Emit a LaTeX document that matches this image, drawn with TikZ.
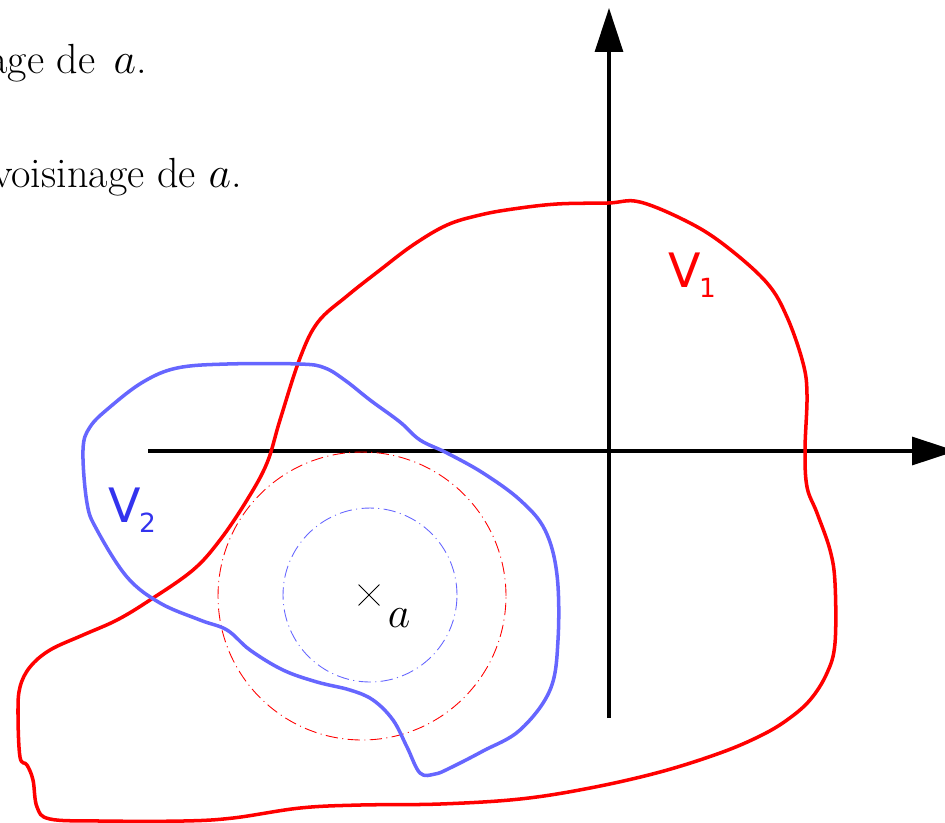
\documentclass[tikz,border=0pt]{standalone}
\usepackage{fontspec}
\usepackage{tikz}
\usetikzlibrary{arrows.meta,shapes.misc}
\newfontfamily\labelfont{DejaVu Sans}
\definecolor{VoisRed}{HTML}{FF0000}
\definecolor{VoisBlue}{HTML}{6666FF}
\definecolor{VoisBlueText}{HTML}{3333EE}

\begin{document}
\begin{tikzpicture}[
  x=0.02cm, y=-0.02cm,
  every node/.style={inner sep=0pt},
  axis/.style={draw=black, line width=1.8pt, -{Triangle[length=0.88cm, width=0.56cm]}},
  boundary/.style={line width=2pt, smooth cycle, tension=0.6},
  ballline/.style={line width=0.5pt, dash pattern=on 7pt off 2.5pt on 0.6pt off 2.5pt},
  bodytext/.style={font=\fontsize{24}{28}\selectfont, anchor=base east},
  vlabel/.style={font=\labelfont\fontsize{27}{30}\selectfont, anchor=base west},
]
\useasboundingbox (0,0) rectangle (945,822);
\clip (0,0) rectangle (945,822);

% ============ text of the page, cut at the left ============
\node[bodytext] (line1) at (147,73) {voisinage de \hspace{3pt}$a$.};
\node[bodytext] (line2) at (242,187) {voisinage de $a$.};

% ============ axes ============
\coordinate (xstart) at (148,451);
\coordinate (xend) at (956,451);
\coordinate (ystart) at (609,718);
\coordinate (yend) at (609,8);
\draw[axis] (xstart) -- (xend);
\draw[axis] (ystart) -- (yend);

% ============ balls around a ============
\draw[ballline, VoisRed] (362,596) circle[radius=2.88cm];
\draw[ballline, VoisBlue] (370,595) circle[radius=1.74cm];
\node[cross out, draw, line width=0.5pt, minimum size=0.4cm] (centre) at (369,595) {};
\node[font=\fontsize{23}{28}\selectfont, anchor=base] (alabel) at (399,627) {$a$};

% ============ V1 ============
\draw[boundary, VoisRed] plot coordinates {
  (608,203) (640,202) (690,223) (727,247) (767,283) (787,317) (803,363)
  (807,395) (805,450) (807,487) (817,513) (830,550) (835,583) (835,643)
  (827,673) (810,700) (787,720) (760,736) (720,753) (660,772) (590,788)
  (520,799) (440,804) (360,805) (300,808) (233,818) (183,821) (100,821)
  (50,819) (37,807) (33,780) (27,765) (20,757) (18,713) (20,687) (30,667)
  (50,650) (83,635) (117,620) (150,600) (193,570) (220,540) (247,500)
  (267,463) (280,420) (300,358) (318,322) (347,296) (380,270)
  (413,245) (447,225) (480,215) (513,209) (557,204)};
\node[vlabel, text=VoisRed] (V1) at (668,287)
  {V\kern-1pt\raisebox{-6.2pt}{\fontsize{15}{15}\selectfont 1}};

% ============ V2 ============
\draw[boundary, VoisBlue] plot coordinates {
  (177,368) (227,364) (300,364) (325,368) (346,381) (370,400) (400,422)
  (420,440) (447,453) (483,473) (520,500) (545,530) (557,575) (558,640)
  (550,690) (520,730) (483,751) (450,768) (435,774) (420,773) (407,747)
  (393,720) (373,700) (350,690) (317,682) (283,670) (250,650) (227,630)
  (200,620) (160,603) (127,577) (97,530) (87,503) (83,450) (90,427)
  (110,407) (143,382)};
\node[vlabel, text=VoisBlueText] (V2) at (108,522)
  {V\kern-1pt\raisebox{-6.2pt}{\fontsize{15}{15}\selectfont 2}};

\end{tikzpicture}
\end{document}
